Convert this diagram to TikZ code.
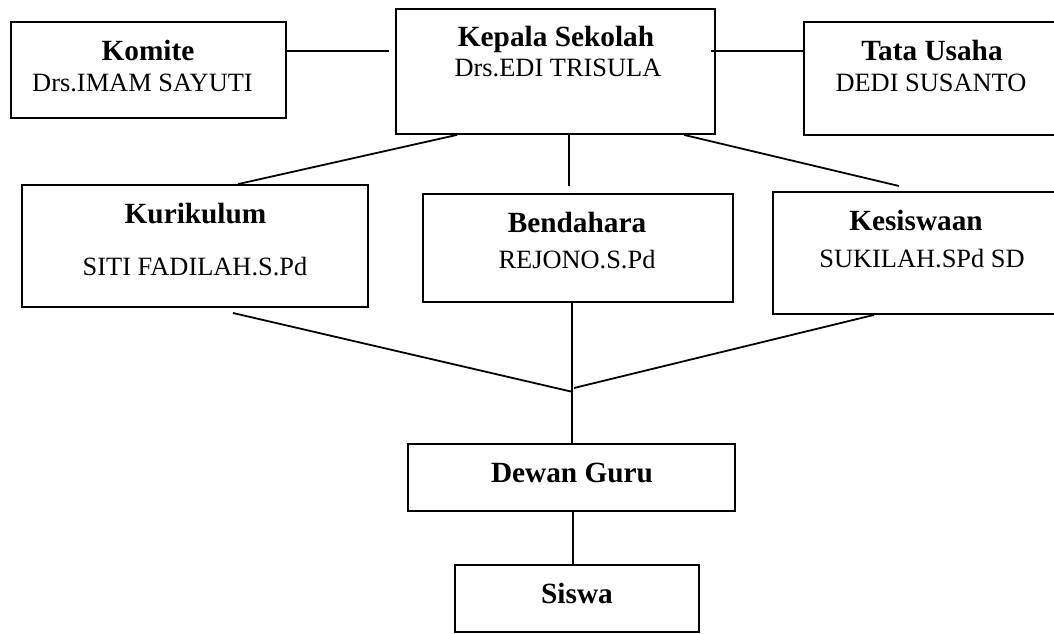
\documentclass[tikz,border=0pt]{standalone}
\usepackage{fontspec}
\setmainfont{Liberation Serif}
\begin{document}
\begin{tikzpicture}[x=1pt,y=-1pt,
  box/.style={draw, line width=1.8pt, inner sep=0pt},
  ttl/.style={font=\fontsize{29.3}{32}\selectfont\bfseries, anchor=base, inner sep=0pt},
  who/.style={font=\fontsize{26.4}{30}\selectfont, anchor=base, inner sep=0pt},
  link/.style={line width=1.8pt}]
\clip (0,0) rectangle (1054,634);
% boxes
\node[box, minimum width=275pt, minimum height=96pt]  (komite)    at (148.5,70)  {};
\node[box, minimum width=319pt, minimum height=125pt] (kepala)    at (555.5,71.5) {};
\node[box, minimum width=260pt, minimum height=113pt] (tata)      at (934,78.5)  {};
\node[box, minimum width=346pt, minimum height=122pt] (kurikulum) at (195,246)   {};
\node[box, minimum width=310pt, minimum height=108pt] (bendahara) at (578,248)   {};
\node[box, minimum width=291pt, minimum height=122pt] (kesiswaan) at (918.5,253) {};
\node[box, minimum width=327pt, minimum height=67pt]  (dewan)     at (571.5,477.5) {};
\node[box, minimum width=244pt, minimum height=67pt]  (siswa)     at (577,598.5) {};
% texts
\node[ttl] (komiteT) at (148,60) {Komite};
\node[who] (komiteN) at (142.5,91) {Drs.IMAM SAYUTI};
\node[ttl] (kepalaT) at (556,47) {Kepala Sekolah};
\node[who] (kepalaN) at (558,77) {Drs.EDI TRISULA};
\node[ttl] (tataT) at (932,60) {Tata Usaha};
\node[who] (tataN) at (931,92) {DEDI SUSANTO};
\node[ttl] (kurT) at (195.5,223) {Kurikulum};
\node[who] (kurN) at (195,275) {SITI FADILAH.S.Pd};
\node[ttl] (benT) at (577,232) {Bendahara};
\node[who] (benN) at (577,268) {REJONO.S.Pd};
\node[ttl] (kesT) at (916,230) {Kesiswaan};
\node[who] (kesN) at (922,267) {SUKILAH.SPd SD};
\node[ttl] (dewanT) at (572,482) {Dewan Guru};
\node[ttl] (siswaT) at (577,603) {Siswa};
% connector points
\coordinate (kl) at (389,51);
\coordinate (kt) at (711,51);
\coordinate (xa) at (457,0);
\coordinate (xb) at (238,0);
\coordinate (bt) at (569,186);
\coordinate (kpk) at (684,0);
\coordinate (kst) at (899,186);
\coordinate (ku) at (233,313);
\coordinate (j1) at (573,392);
\coordinate (j2) at (574,388);
\coordinate (ks) at (874,0);
\coordinate (bd) at (572,0);
\coordinate (ds) at (573,0);
% connectors
\draw[link] (komite.east |- kl) -- (kl);
\draw[link] (kt) -- (tata.west |- kt);
\draw[link] (kepala.south -| xa) -- (kurikulum.north -| xb);
\draw[link] (kepala.south -| bt) -- (bt);
\draw[link] (kepala.south -| kpk) -- (kst);
\draw[link] (ku) -- (j1);
\draw[link] (bendahara.south -| bd) -- (dewan.north -| bd);
\draw[link] (kesiswaan.south -| ks) -- (j2);
\draw[link] (dewan.south -| ds) -- (siswa.north -| ds);
\end{tikzpicture}
\end{document}
